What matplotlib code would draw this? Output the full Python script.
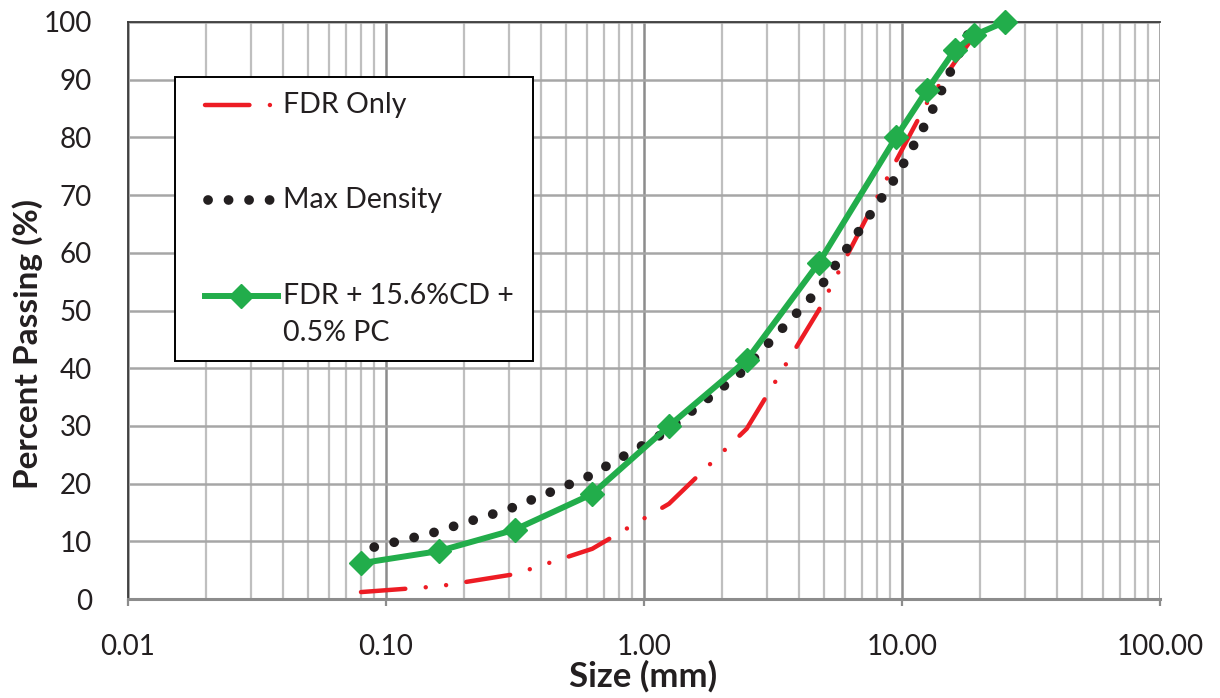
# Gradation curves: FDR only, max density line and FDR + CD + PC blend
import numpy as np
from matplotlib import pyplot as plt
from matplotlib.lines import Line2D
from matplotlib.patches import Rectangle
from matplotlib.ticker import FixedLocator, FixedFormatter, NullFormatter

plt.rcParams['font.family'] = ['Lato', 'DejaVu Sans']

# sieve sizes (mm) and percent passing
fdr_size = [0.08, 0.16, 0.315, 0.63, 1.25, 2.5, 4.75, 9.5, 12.5, 16, 19, 25]
fdr_pass = [1.2, 2.2, 4.3, 8.7, 16.5, 29.5, 50.0, 76.0, 86.0, 93.0, 97.5, 100]

maxd_size = [0.09, 0.15, 0.3, 0.6, 1.18, 2.36, 4.75, 9.5, 12.5, 19]
maxd_pass = [9.0, 11.4, 15.6, 21.1, 28.6, 39.1, 53.6, 73.2, 82.8, 100]

mix_size = [0.08, 0.16, 0.315, 0.63, 1.25, 2.5, 4.75, 9.5, 12.5, 16, 19, 25]
mix_pass = [6.2, 8.3, 12.0, 18.2, 30.0, 41.4, 58.2, 80.1, 88.2, 95.1, 97.7, 100]

labels = ["FDR Only", "Max Density", "FDR + 15.6%CD +\n0.5% PC"]
x_ticks = [0.01, 0.1, 1, 10, 100]
x_ticklabels = ["0.01", "0.10", "1.00", "10.00", "100.00"]

RED = "#ed1c24"
BLACK = "#231f20"
GREEN = "#22ad4b"
TXT = "#231f20"

W, H = 1220, 698
fig = plt.figure(figsize=(W / 100, H / 100), dpi=100)
ax = fig.add_axes([128 / W, 1 - 599 / H, (1160 - 128) / W, (599 - 22) / H])

# grid
ax.set_xscale('log')
ax.set_xlim(0.01, 100)
ax.set_ylim(0, 100)
ax.xaxis.set_major_locator(FixedLocator(x_ticks))
ax.xaxis.set_major_formatter(FixedFormatter(x_ticklabels))
ax.xaxis.set_minor_locator(FixedLocator(
    [m * d for d in [0.01, 0.1, 1, 10] for m in range(2, 10)]))
ax.xaxis.set_minor_formatter(NullFormatter())
ax.set_yticks(np.arange(0, 101, 10))
ax.grid(which='minor', axis='x', color='#bfbfbf', lw=1.6)
ax.grid(which='major', axis='x', color='#8c8c8c', lw=1.8)
ax.grid(which='major', axis='y', color='#a6a6a6', lw=1.8)
ax.set_axisbelow(True)

ax.tick_params(axis='x', which='major', direction='out', length=5, width=1.6,
               color='#8c8c8c', labelsize=20, pad=20, labelcolor=TXT)
ax.tick_params(axis='x', which='minor', length=0)
ax.tick_params(axis='y', length=0, labelsize=20, pad=26, labelcolor=TXT)

for s in ['left', 'top']:
    ax.spines[s].set_color('#3a3a3a')
    ax.spines[s].set_linewidth(1.3)
ax.spines['right'].set_visible(False)
ax.spines['bottom'].set_color('#8c8c8c')
ax.spines['bottom'].set_linewidth(2.2)

ax.set_xlabel("Size (mm)", fontsize=25, fontweight='bold', color=TXT)
ax.set_ylabel("Percent Passing (%)", fontsize=24, fontweight='bold',
              color=TXT)
ax.xaxis.set_label_coords(0.499, -0.105)
ax.yaxis.set_label_coords(-0.082, 0.442)

# series
red_dash = (0, (10, 4.6, 0.01, 4.6, 0.01, 4.6))
dot_style = (0, (0.01, 2.1))

ax.plot(fdr_size, fdr_pass, color=RED, lw=3.2, ls=red_dash,
        dash_capstyle='round', zorder=3)
ax.plot(maxd_size, maxd_pass, color=BLACK, lw=7, ls=dot_style,
        dash_capstyle='round', zorder=4)
ax.plot(mix_size, mix_pass, color=GREEN, lw=4.3, marker='D', ms=12.5,
        zorder=5, clip_on=False)

# legend box, drawn by hand to match the spacing
fig.patches.append(Rectangle((175 / W, 1 - 361 / H), (533 - 175) / W,
                             (361 - 77) / H, transform=fig.transFigure,
                             facecolor='white', edgecolor='black', lw=1.4,
                             zorder=10))
handles = [
    Line2D([205 / W, 280 / W], [1 - 105 / H] * 2, color=RED, lw=3.2,
           ls=red_dash, dash_capstyle='round'),
    Line2D([208 / W, 272 / W], [1 - 200 / H] * 2, color=BLACK, lw=7,
           ls=dot_style, dash_capstyle='round'),
    Line2D([205 / W, 278 / W], [1 - 296 / H] * 2, color=GREEN, lw=4.3),
    Line2D([241 / W], [1 - 296 / H], color=GREEN, marker='D', ms=12.5,
           lw=0),
]
for h in handles:
    h.set_transform(fig.transFigure)
    h.set_zorder(11)
    fig.lines.append(h)

for lab, y in zip(labels, [105, 200, 296]):
    for i, line in enumerate(lab.split("\n")):
        fig.text(283 / W, 1 - (y + 37 * i) / H, line, fontsize=20.5,
                 color=TXT, va='center', ha='left', zorder=12)

fig.savefig("out.png", dpi=100)
